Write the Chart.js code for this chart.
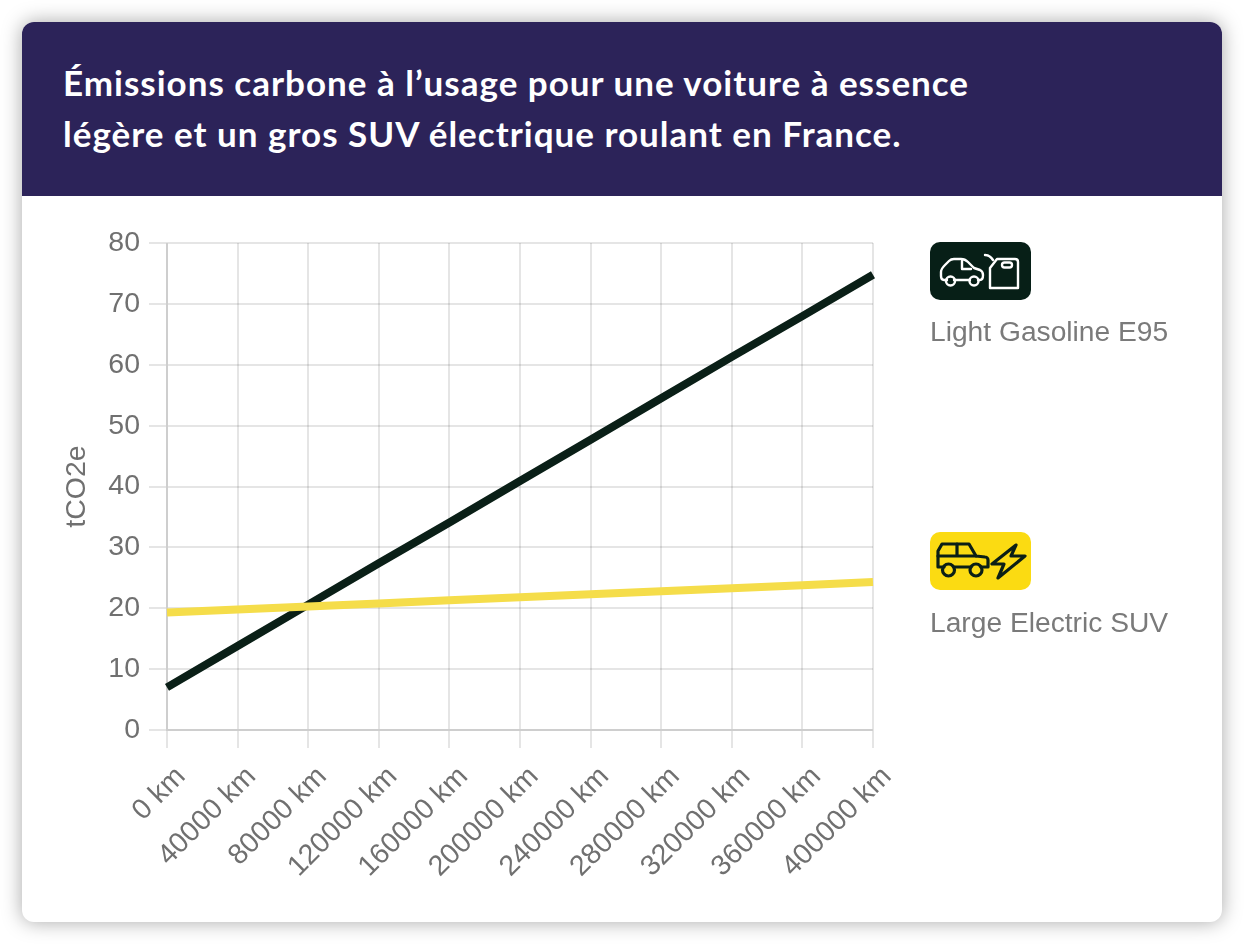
<!DOCTYPE html>
<html>
<head>
<meta charset="utf-8">
<script src="https://cdn.jsdelivr.net/npm/chart.js@4"></script>
<style>
  html, body { margin: 0; padding: 0; background: #fff; }
  body { width: 1244px; height: 944px; position: relative; overflow: hidden; font-family: "Liberation Sans", sans-serif; }
  .card { position: absolute; left: 22px; top: 22px; width: 1200px; height: 900px; background: #fff; border-radius: 12px; box-shadow: 0 0 20px rgba(0,0,0,.35); overflow: hidden; }
  .head { position: absolute; left: 0; top: 0; width: 1200px; height: 174px; background: #2c2359; }
  .head h1 { margin: 0; position: absolute; left: 41px; top: 35px; color: #fff; font: 700 35px/51px Lato, sans-serif; letter-spacing: 1px; white-space: nowrap; }
  #chart { position: absolute; left: 8px; top: 195px; filter: blur(0.4px); }
  .tile { position: absolute; left: 908px; width: 101px; height: 58px; border-radius: 10px; }
  .tile svg { display: block; }
  .name { position: absolute; left: 908px; color: #7a7a7a; font-size: 28.2px; line-height: 30px; white-space: nowrap; filter: blur(0.4px); }
</style>
</head>
<body>
<div class="card">
  <div class="head"><h1>Émissions carbone à l’usage pour une voiture à essence<br>légère et un gros SUV électrique roulant en France.</h1></div>
  <canvas id="chart" width="880" height="683"></canvas>

  <div class="tile" style="top:220px;background:#071f17">
    <svg width="101" height="58" viewBox="0 0 101 58" fill="none" stroke="#fff" stroke-width="2.4" stroke-linejoin="round" stroke-linecap="round">
      <path d="M17 38h-3c-2 0-3-1-3-4v-4c0-3 2-5 4-7l4-4c1-1 3-2 5-2h7c2 0 5 1 7 3l6 6 6 2c2 1 3 3 3 5 0 3-1 5-3 5h-2"/>
      <path d="M24 38h16M32 19v8h9"/>
      <circle cx="20.500" cy="39" r="4.500"/><circle cx="44" cy="39" r="4.500"/>
      <path d="M60 46V26l7-9h18c2 0 3 1 3 3v26z"/>
      <rect x="72" y="20.500" width="10" height="5" rx="2.500"/>
      <path d="M55 13c3 0 6 2 8 5"/>
    </svg>
  </div>
  <div class="name" style="top:294px">Light Gasoline E95</div>

  <div class="tile" style="top:510px;background:#fbdb12">
    <svg width="101" height="58" viewBox="0 0 101 58" fill="none" stroke="#0b1f16" stroke-width="3.2" stroke-linejoin="round" stroke-linecap="round">
      <path d="M14 35H8V19l4-7h27l7 12 9 1c1 0 3 1 3 3v7h-7"/>
      <path d="M8 24h38M27 12v12M24 35h17"/>
      <circle cx="18.500" cy="38" r="6"/><circle cx="46" cy="38" r="6"/>
      <path d="M86 13L62 32h12l-6 14 27-22H81z"/>
    </svg>
  </div>
  <div class="name" style="top:585px">Large Electric SUV</div>
</div>

<script>
// values
const distances = ['0 km', '40000 km', '80000 km', '120000 km', '160000 km', '200000 km',
  '240000 km', '280000 km', '320000 km', '360000 km', '400000 km'];
const gasoline = [7, 13.8, 20.6, 27.4, 34.1, 40.9, 47.7, 54.5, 61.3, 68, 74.8];
const electricSuv = [19.3, 19.8, 20.3, 20.8, 21.3, 21.8, 22.3, 22.8, 23.3, 23.8, 24.3];
const yTicks = [0, 10, 20, 30, 40, 50, 60, 70, 80];

const gridColor = 'rgba(0,0,0,0.1)';
const labelColor = '#707070';
const tickFont = { family: 'Liberation Sans', size: 28.5 };

new Chart(document.getElementById('chart'), {
  type: 'line',
  data: {
    labels: distances,
    datasets: [
      { label: 'Large Electric SUV', data: electricSuv, borderColor: '#f5dd4a', borderWidth: 8, pointRadius: 0, tension: 0 },
      { label: 'Light Gasoline E95', data: gasoline, borderColor: '#0a1f17', borderWidth: 8, pointRadius: 0, tension: 0 }
    ]
  },
  options: {
    responsive: false,
    animation: false,
    layout: { autoPadding: false, padding: { top: 0, right: 37, left: 0, bottom: 0 } },
    plugins: { legend: { display: false }, tooltip: { enabled: false } },
    scales: {
      x: {
        afterFit: scale => { scale.height = 170; },
        grid: { color: gridColor, lineWidth: 2, tickLength: 18 },
        border: { color: gridColor, width: 2 },
        ticks: { color: labelColor, font: tickFont, minRotation: 45, maxRotation: 45, autoSkip: false, padding: 12, labelOffset: 14 }
      },
      y: {
        min: 0,
        max: 80,
        afterBuildTicks: scale => { scale.ticks = yTicks.map(v => ({ value: v })); },
        afterFit: scale => { scale.width = 137; },
        grid: { color: gridColor, lineWidth: 2, tickLength: 18 },
        border: { color: gridColor, width: 2 },
        ticks: { color: labelColor, font: tickFont, padding: 9 },
        title: { display: true, text: 'tCO2e', color: labelColor, font: tickFont, padding: { top: 30, bottom: 0 } }
      }
    }
  }
});
</script>
</body>
</html>
